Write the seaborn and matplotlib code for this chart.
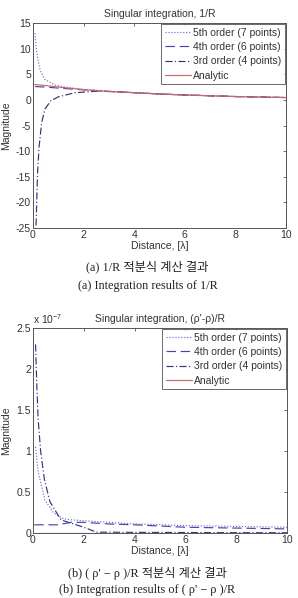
import matplotlib
matplotlib.use("Agg")
import matplotlib.pyplot as plt
import seaborn as sns

# ---------------- data: (a) 1/R ----------------
a5_x = [0.08, 0.15, 0.28, 0.47, 0.87, 1.4, 2.0, 3.0, 4.0, 5.0, 6.0, 7.0, 8.0, 9.0, 10.0]
a5_y = [13.0, 9.1, 5.8, 4.0, 2.9, 2.4, 2.05, 1.7, 1.42, 1.17, 0.97, 0.81, 0.66, 0.56, 0.46]
a4_x = [0.08, 0.5, 1.0, 2.0, 3.0, 4.0, 5.0, 6.0, 7.0, 8.0, 9.0, 10.0]
a4_y = [2.6, 2.5, 2.3, 1.95, 1.64, 1.4, 1.15, 0.95, 0.8, 0.65, 0.55, 0.45]
a3_x = [0.12, 0.15, 0.18, 0.24, 0.34, 0.47, 0.7, 1.0, 1.66, 2.5, 3.0, 4.0, 5.0, 6.0, 7.0, 8.0, 9.0, 10.0]
a3_y = [-24.5, -19.5, -14.3, -9.2, -4.5, -1.8, -0.2, 0.6, 1.4, 1.7, 1.63, 1.4, 1.15, 0.95, 0.8, 0.65, 0.55, 0.45]
aA_x = [0.05, 0.5, 1.0, 2.0, 3.0, 4.0, 5.0, 6.0, 7.0, 8.0, 9.0, 10.0]
aA_y = [3.0, 2.8, 2.5, 2.0, 1.65, 1.4, 1.15, 0.95, 0.8, 0.65, 0.55, 0.45]

# ---------------- data: (b) (rho'-rho)/R, units of 1e-7 ----------------
b5_x = [0.1, 0.2, 0.47, 0.8, 1.13, 1.5, 2.0, 3.0, 4.0, 6.0, 8.0, 10.0]
b5_y = [1.05, 0.75, 0.4, 0.25, 0.18, 0.16, 0.15, 0.13, 0.11, 0.09, 0.08, 0.07]
b4_x = [0.05, 1.0, 1.5, 2.0, 3.0, 4.0, 6.0, 8.0, 10.0]
b4_y = [0.1, 0.1, 0.13, 0.13, 0.11, 0.1, 0.07, 0.06, 0.05]
b3_x = [0.1, 0.15, 0.2, 0.3, 0.45, 0.67, 1.1, 1.5, 2.0, 2.5, 4.0, 7.0, 10.0]
b3_y = [2.3, 1.8, 1.4, 1.0, 0.65, 0.38, 0.16, 0.12, 0.07, 0.01, 0.008, 0.005, 0.003]
bA_x = [0.0, 10.0]
bA_y = [0.0, 0.0]

labels = ["5th order (7 points)", "4th order (6 points)", "3rd order (4 points)", "Analytic"]
a_yticks = [-25, -20, -15, -10, -5, 0, 5, 10, 15]
b_yticks = [0, 0.5, 1, 1.5, 2, 2.5]
xticks = [0, 2, 4, 6, 8, 10]

sns.set_style("white")
plt.rcParams["font.family"] = ["Liberation Sans", "DejaVu Sans"]
plt.rcParams["mathtext.fontset"] = "custom"
plt.rcParams["mathtext.rm"] = "Liberation Sans"
plt.rcParams["mathtext.it"] = "Liberation Sans:italic"

colors = ["#6b6bd0", "#4646a8", "#34347e", "#c86a6a"]
styles = [(0, (1, 1.5)), (0, (8, 4)), (0, (6, 2, 1, 2)), "-"]
txtc = "#333333"
fs = 7.5

fig = plt.figure(figsize=(2.98, 5.98), dpi=100)
ax1 = fig.add_axes([33 / 298, 1 - 228 / 598, 253 / 298, 205 / 598])
ax2 = fig.add_axes([33 / 298, 1 - 533 / 598, 254 / 298, 205 / 598])


def draw(ax, series, ylim, yticks, title):
    for (xs, ys), lab, c, ls in zip(series, labels, colors, styles):
        sns.lineplot(x=xs, y=ys, ax=ax, color=c, linestyle=ls, linewidth=0.85, label=lab)
    ax.set_xlim(0, 10)
    ax.set_ylim(*ylim)
    ax.set_xticks(xticks)
    ax.set_yticks(yticks)
    ax.set_yticklabels(["%g" % t for t in yticks])
    ax.tick_params(direction="in", length=2.5, width=0.6, labelsize=fs, colors="#555555",
                   labelcolor=txtc, top=True, right=True, pad=1.5)
    for s in ax.spines.values():
        s.set_color("#555555")
        s.set_linewidth(0.7)
    ax.set_xlabel("Distance, [λ]", fontsize=fs, color=txtc, labelpad=0.5)
    ax.set_ylabel("Magnitude", fontsize=fs, color=txtc)
    ax.yaxis.set_label_coords(-0.088, 0.5)
    ax.set_title(title, fontsize=fs, color=txtc, pad=4)
    leg = ax.legend(loc="upper right", fontsize=fs, frameon=True, fancybox=False,
                    handlelength=2.5, handletextpad=0.2, borderpad=0.35, labelspacing=0.42,
                    borderaxespad=0.1)
    leg.get_frame().set_edgecolor("#444444")
    leg.get_frame().set_linewidth(0.7)
    for t in leg.get_texts():
        t.set_color(txtc)


draw(ax1, [(a5_x, a5_y), (a4_x, a4_y), (a3_x, a3_y), (aA_x, aA_y)], (-25, 15), a_yticks,
     "Singular integration, 1/R")
draw(ax2, [(b5_x, b5_y), (b4_x, b4_y), (b3_x, b3_y), (bA_x, bA_y)], (0, 2.5), b_yticks,
     "Singular integration, (ρ'-ρ)/R")
ax2.text(0.0, 1.01, r"x 10$^{-7}$", transform=ax2.transAxes, fontsize=fs, color=txtc,
         ha="left", va="bottom")

cap = dict(fontsize=8.8, color="#222222", ha="center", va="center",
           family=["Liberation Serif", "Noto Sans CJK KR"])
fig.text(147 / 298, 1 - 267 / 598, "(a) 1/R 적분식 계산 결과", **cap)
fig.text(148 / 298, 1 - 286 / 598, "(a) Integration results of 1/R", **cap)
fig.text(147 / 298, 1 - 574 / 598, "(b) ( ρ' − ρ )/R 적분식 계산 결과", **cap)
fig.text(147 / 298, 1 - 590 / 598, "(b) Integration results of ( ρ' − ρ )/R", **cap)

fig.savefig("out.png", dpi=100, facecolor="white")
